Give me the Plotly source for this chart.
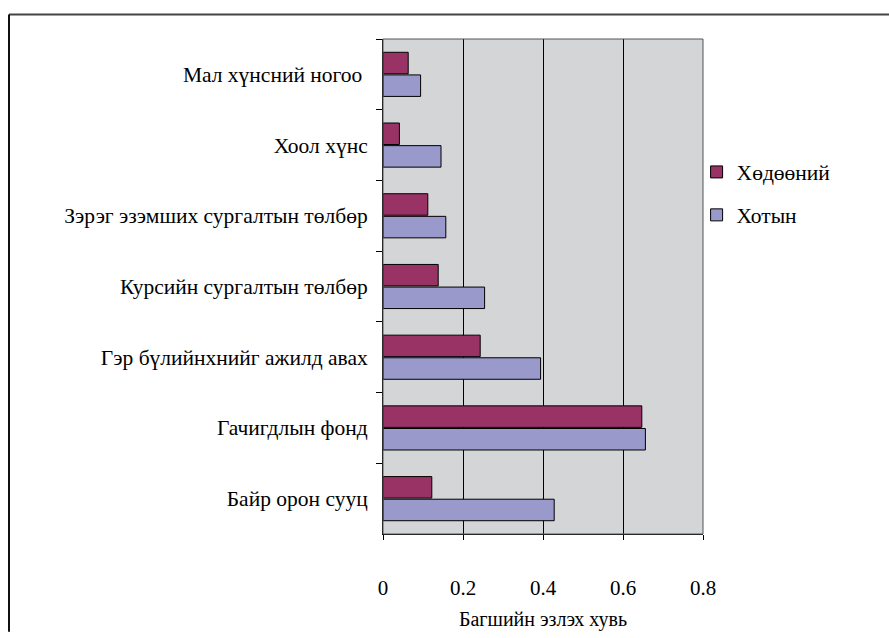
import plotly.graph_objects as go

# Expense categories, listed top to bottom
categories = [
    "Мал хүнсний ногоо ",
    "Хоол хүнс",
    "Зэрэг эзэмших сургалтын төлбөр",
    "Курсийн сургалтын төлбөр",
    "Гэр бүлийнхнийг ажилд авах",
    "Гачигдлын фонд",
    "Байр орон сууц",
]

rural = [0.063, 0.041, 0.112, 0.138, 0.243, 0.647, 0.122]   # Хөдөөний
urban = [0.094, 0.145, 0.157, 0.254, 0.394, 0.656, 0.428]   # Хотын

x_ticks = [0, 0.2, 0.4, 0.6, 0.8]
x_tick_text = ["0", "0.2", "0.4", "0.6", "0.8"]

FONT = "Times New Roman"

fig = go.Figure()
fig.add_trace(go.Bar(
    y=categories, x=rural, orientation="h", name="Хөдөөний",
    marker=dict(color="#993366", line=dict(color="#000000", width=1)),
    legendgroup="a",
))
fig.add_trace(go.Bar(
    y=categories, x=urban, orientation="h", name="Хотын",
    marker=dict(color="#9999CC", line=dict(color="#000000", width=1)),
    legendgroup="b",
))

fig.update_layout(
    width=889, height=638,
    margin=dict(l=383, r=186, t=39, b=93),
    paper_bgcolor="white",
    plot_bgcolor="#D4D5D7",
    barmode="group",
    bargap=0.36,
    bargroupgap=0.05,
    font=dict(family=FONT, size=21, color="black"),
    showlegend=True,
    legend=dict(
        x=0.98, xanchor="left", y=0.688, yanchor="middle",
        font=dict(family=FONT, size=21.5, color="black"),
        tracegroupgap=12,
        traceorder="grouped",
        bgcolor="rgba(0,0,0,0)",
        itemwidth=30,
    ),
    xaxis=dict(
        range=[0, 0.8],
        tickmode="array", tickvals=x_ticks, ticktext=x_tick_text,
        showgrid=True, gridcolor="black", gridwidth=1,
        zeroline=False,
        showline=True, linecolor="black", linewidth=1,
        ticks="outside", ticklen=5, tickcolor="black",
        ticklabelstandoff=30,
        tickfont=dict(family=FONT, size=21, color="black"),
        title=dict(text="Багшийн эзлэх хувь", standoff=12,
                   font=dict(family=FONT, size=20, color="black")),
    ),
    yaxis=dict(
        autorange="reversed",
        showgrid=False,
        showline=True, linecolor="black", linewidth=1,
        ticks="outside", ticklen=6, tickcolor="black",
        tickson="boundaries",
        ticklabelstandoff=10,
        tickfont=dict(family=FONT, size=21.5, color="black"),
    ),
)

# Plot-area frame
fig.add_shape(type="rect", xref="x domain", yref="y domain",
              x0=0, x1=1, y0=0, y1=1,
              line=dict(color="#555555", width=1), layer="above")

# Outer chart frame (top and left edges)
fig.add_shape(type="line", xref="paper", yref="paper",
              x0=-374 / 320, x1=506 / 320, y0=1 + 25 / 506, y1=1 + 25 / 506,
              line=dict(color="#444444", width=2))
fig.add_shape(type="line", xref="paper", yref="paper",
              x0=-374 / 320, x1=-374 / 320, y0=1 + 25 / 506, y1=-100 / 506,
              line=dict(color="#111111", width=2))

fig.write_html("out.html")
